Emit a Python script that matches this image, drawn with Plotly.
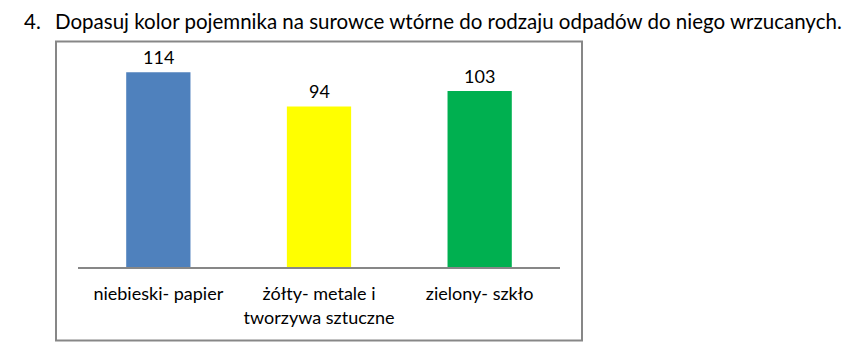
import plotly.graph_objects as go

categories = ["niebieski- papier", "żółty- metale i<br>tworzywa sztuczne", "zielony- szkło"]
values = [114, 94, 103]
colors = ["#4F81BD", "#FFFF00", "#00B050"]
title_num = "4."
title_text = "Dopasuj kolor pojemnika na surowce wtórne do rodzaju odpadów do niego wrzucanych."

W, H = 847, 358
L, R = 78, 560
AXIS_Y = 266.7
Y_MAX = 120
PX_PER_UNIT = 194.0 / 114
TOP = AXIS_Y - Y_MAX * PX_PER_UNIT
plot_h = AXIS_Y - TOP
plot_w = R - L

def px(x):
    return (x - L) / plot_w

def py(y):
    return (AXIS_Y - y) / plot_h

FONT = "Lato, Calibri, Carlito, sans-serif"

fig = go.Figure(go.Bar(
    x=categories, y=values, marker_color=colors, marker_line_width=0, width=0.4,
))

annotations = []
for c, v in zip(categories, values):
    annotations.append(dict(x=c, y=v, xref="x", yref="y", text=str(v), showarrow=False,
                            yanchor="bottom", yshift=2, font=dict(family=FONT, size=18, color="#000")))
annotations.append(dict(x=px(22), y=py(22), xref="paper", yref="paper", text=title_num, showarrow=False,
                        xanchor="left", yanchor="middle", font=dict(family=FONT, size=20.5, color="#000")))
annotations.append(dict(x=px(53), y=py(22), xref="paper", yref="paper", text=title_text, showarrow=False,
                        xanchor="left", yanchor="middle", font=dict(family=FONT, size=20.5, color="#000")))

fig.update_layout(
    width=W, height=H,
    margin=dict(l=L, r=W - R, t=TOP, b=H - AXIS_Y, pad=0),
    paper_bgcolor="white", plot_bgcolor="white",
    showlegend=False,
    annotations=annotations,
    shapes=[dict(type="rect", xref="paper", yref="paper", x0=px(56), x1=px(582), y0=py(340), y1=py(42),
                 line=dict(color="#878787", width=2), fillcolor="rgba(0,0,0,0)", layer="below")],
    xaxis=dict(showline=True, linecolor="#878787", linewidth=1.5, ticks="", showgrid=False,
               tickfont=dict(family=FONT, size=18, color="#000"), ticklabelstandoff=10, fixedrange=True),
    yaxis=dict(range=[0, Y_MAX], visible=False, showgrid=False, zeroline=False, fixedrange=True),
    font=dict(family=FONT),
)

fig.write_html("out.html", config=dict(displayModeBar=False))
